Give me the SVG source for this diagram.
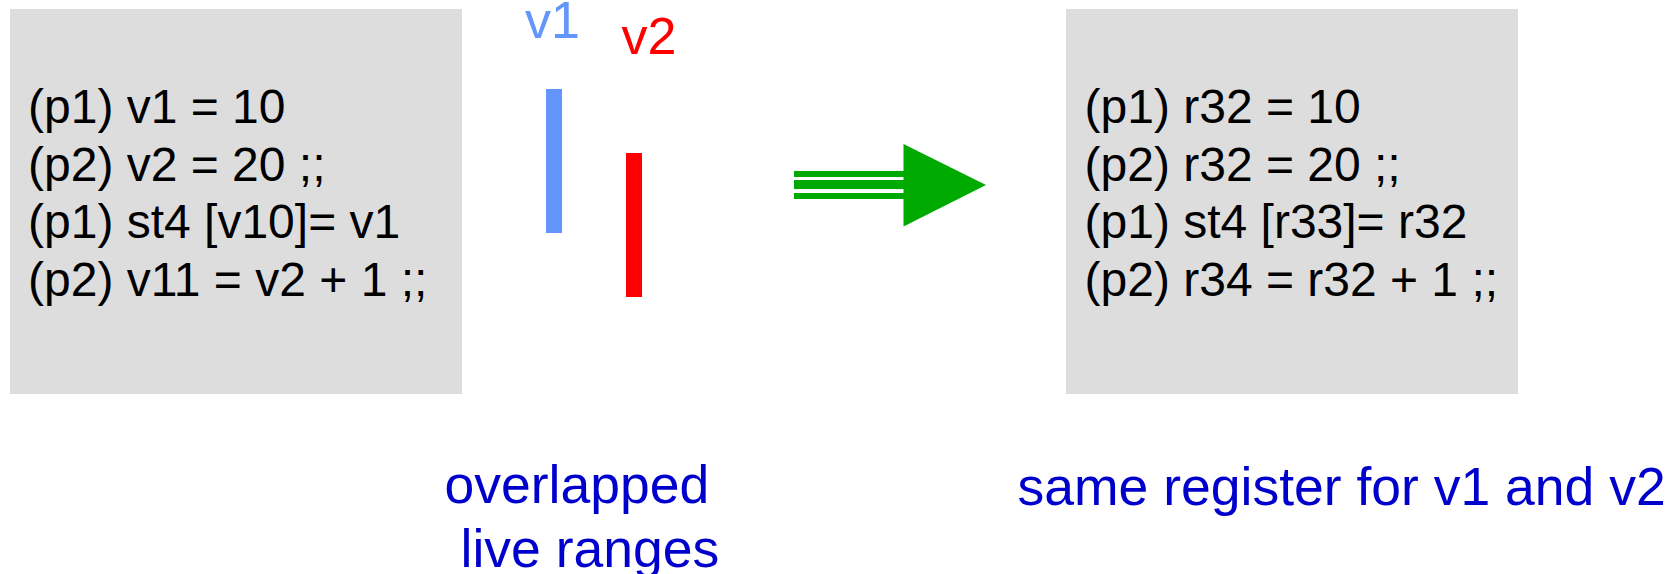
<svg xmlns="http://www.w3.org/2000/svg" width="1676" height="574" viewBox="0 0 1676 574">
<style>
.box{fill:#dddddd}
.code{font-family:"Liberation Sans",Arial,sans-serif;font-size:48px;fill:#000000}
.lbl{font-family:"Liberation Sans",Arial,sans-serif;font-size:52px}
.cap{font-family:"Liberation Sans",Arial,sans-serif;font-size:53.5px;fill:#0000cc}
</style>
<rect width="1676" height="574" fill="#ffffff"/>
<g id="source-code">
<rect class="box" x="10" y="9" width="452" height="385"/>
<text class="code" x="28" y="123">(p1) v1 = 10</text>
<text class="code" x="28" y="181">(p2) v2 = 20 ;;</text>
<text class="code" x="28" y="238">(p1) st4 [v10]= v1</text>
<text class="code" x="28" y="296">(p2) v11 = v2 + 1 ;;</text>
</g>
<g id="live-ranges">
<text class="lbl" x="525" y="38" fill="#6495fa">v1</text>
<text class="lbl" x="621.5" y="54" fill="#ff0000">v2</text>
<rect x="546" y="89" width="16" height="144" fill="#6495fa"/>
<rect x="626" y="153" width="16" height="144" fill="#ff0000"/>
</g>
<g id="connectors">
<rect x="794" y="171" width="110" height="28" fill="#00aa00"/>
<rect x="794" y="177" width="110" height="3" fill="#ffffff"/>
<rect x="794" y="189" width="110" height="4" fill="#ffffff"/>
<polygon points="903.5,144 986,185 903.5,226.5" fill="#00aa00"/>
</g>
<g id="allocated-code">
<rect class="box" x="1066" y="9" width="452" height="385"/>
<text class="code" x="1084.5" y="123">(p1) r32 = 10</text>
<text class="code" x="1084.5" y="181">(p2) r32 = 20 ;;</text>
<text class="code" x="1084.5" y="238">(p1) st4 [r33]= r32</text>
<text class="code" x="1084.5" y="296">(p2) r34 = r32 + 1 ;;</text>
</g>
<g id="caption-left">
<text class="cap" x="444.5" y="503">overlapped</text>
<text class="cap" x="460.5" y="567">live ranges</text>
</g>
<g id="caption-right">
<text class="cap" x="1017.5" y="505">same register for v1 and v2</text>
</g>
</svg>
